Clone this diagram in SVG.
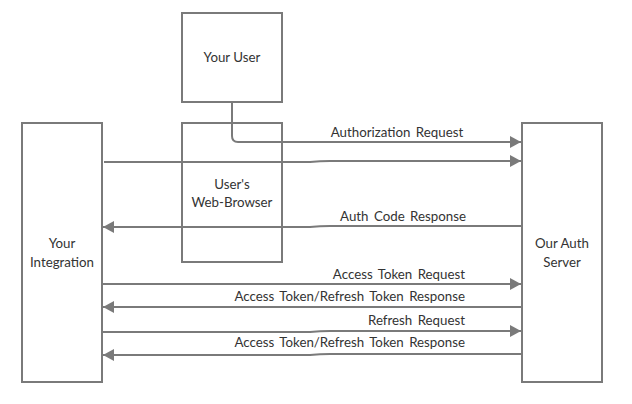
<svg xmlns="http://www.w3.org/2000/svg" width="632" height="404" viewBox="0 0 632 404">
<defs>
<style>
.box{fill:#fff;stroke:#7a7a7a;stroke-width:2}
.t{font-family:Lato,"Open Sans",sans-serif;font-size:13.3px;fill:#333}
.c{fill:none;stroke:#7a7a7a;stroke-width:2}
.l{font-family:Lato,"Open Sans",sans-serif;font-size:13.3px;fill:#333;word-spacing:2px}
</style>
<marker id="ah" markerWidth="11" markerHeight="12" refX="11" refY="6" orient="auto" markerUnits="userSpaceOnUse">
<path d="M0,0 L11,6 L0,12 Z" fill="#7a7a7a"/>
</marker>
</defs>
<rect width="632" height="404" fill="#fff"/>
<g id="user"><rect class="box" x="182" y="13" width="100" height="89"/><text class="t" x="232" y="62" text-anchor="middle">Your User</text></g>
<g id="browser"><rect class="box" x="182" y="123" width="100" height="139"/><text class="t" x="232" y="189" text-anchor="middle">User's</text><text class="t" x="232" y="207" text-anchor="middle">Web-Browser</text></g>
<g id="integration"><rect class="box" x="22" y="123" width="80" height="259"/><text class="t" x="62" y="248" text-anchor="middle">Your</text><text class="t" x="62" y="267" text-anchor="middle">Integration</text></g>
<g id="server"><rect class="box" x="522" y="123" width="80" height="259"/><text class="t" x="562" y="248" text-anchor="middle">Our Auth</text><text class="t" x="562" y="267" text-anchor="middle">Server</text></g>
<g id="connectors">
<path class="c" d="M232,102 V136 Q232,142 238,142 H521" marker-end="url(#ah)"/>
<path class="c" d="M104,162 H310 Q320,161 330,161 H521" marker-end="url(#ah)"/>
<path class="c" d="M522,226 H330 Q320,226 310,227 H103" marker-end="url(#ah)"/>
<path class="c" d="M102,284 H521" marker-end="url(#ah)"/>
<path class="c" d="M522,307 H103" marker-end="url(#ah)"/>
<path class="c" d="M102,332 H310 Q320,331 330,331 H521" marker-end="url(#ah)"/>
<path class="c" d="M522,354 H330 Q320,354 310,355 H103" marker-end="url(#ah)"/>
</g>
<g id="labels">
<text class="l" x="397" y="137" text-anchor="middle">Authorization Request</text>
<text class="l" x="403" y="221" text-anchor="middle">Auth Code Response</text>
<text class="l" x="465" y="279" text-anchor="end">Access Token Request</text>
<text class="l" x="465" y="301" text-anchor="end">Access Token/Refresh Token Response</text>
<text class="l" x="465" y="325" text-anchor="end">Refresh Request</text>
<text class="l" x="465" y="347" text-anchor="end">Access Token/Refresh Token Response</text>
</g>
</svg>
